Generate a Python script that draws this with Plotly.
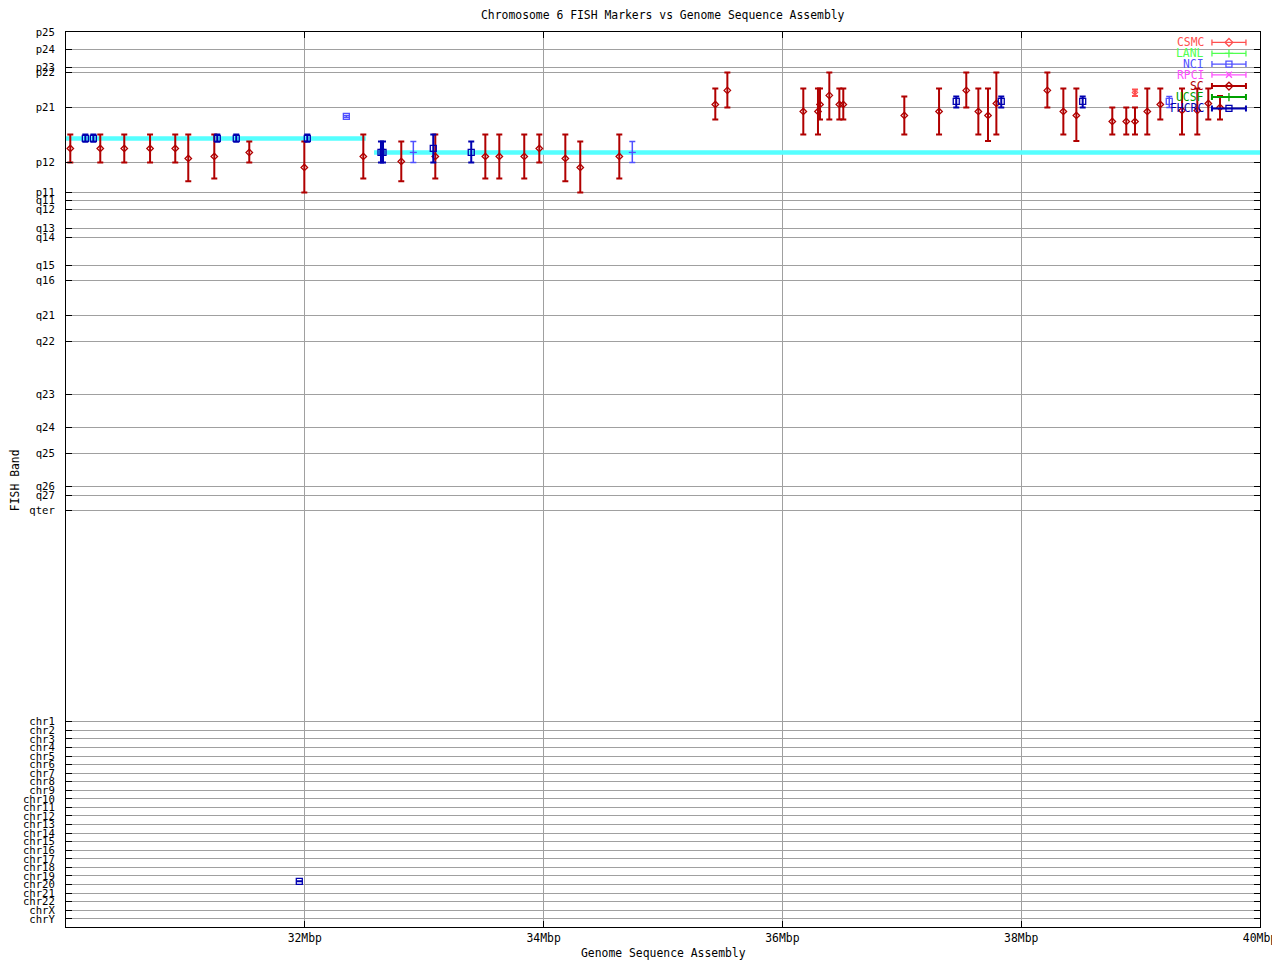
import plotly.graph_objects as go

# ---------------- DATA ----------------
# FISH band axis (arbitrary band units, increasing downward)
band_labels = ["p25", "p24", "p23", "p22", "p21", "p12", "p11", "q11", "q12", "q13", "q14",
               "q15", "q16", "q21", "q22", "q23", "q24", "q25", "q26", "q27", "qter"]
band_pos = [32.0, 49.3, 66.9, 72.3, 107.3, 162.3, 192.3, 200.5, 209.5, 228.5, 237.0,
            265.0, 280.0, 315.0, 341.5, 394.5, 427.5, 453.3, 486.5, 495.0, 510.0]
chr_labels = ["chr%d" % i for i in range(1, 23)] + ["chrX", "chrY"]
chr_pos = [721.5, 730.1, 738.6, 747.2, 755.8, 764.3, 772.9, 781.5, 790.0, 798.6, 807.2, 815.7,
           824.3, 832.9, 841.4, 850.0, 858.6, 867.1, 875.7, 884.3, 892.8, 901.4, 910.0, 918.5]

x_tickvals = [32, 34, 36, 38, 40]
x_ticktext = ["32Mbp", "34Mbp", "36Mbp", "38Mbp", "40Mbp"]

# Sequence assembly band segments (cyan)
seg_x0 = [30.0, 32.58]
seg_x1 = [32.51, 40.0]
seg_y = [138.3, 152.3]

# SC
sc_x = [30.036, 30.287, 30.488, 30.704, 30.915, 31.024, 31.242, 31.535, 31.996, 32.490,
        32.808, 33.093, 33.512, 33.629, 33.838, 33.964, 34.182, 34.307, 34.634,
        35.438, 35.539, 36.175, 36.298, 36.315, 36.393, 36.477, 36.510, 37.021, 37.312,
        37.540, 37.641, 37.722, 37.792, 38.219, 38.353, 38.462, 38.763, 38.880, 38.953,
        39.056, 39.165, 39.347, 39.475, 39.567, 39.665]
sc_y = [148.3, 148.3, 148.3, 148.3, 148.3, 158.3, 156.3, 152.3, 167.3, 156.3,
        161.3, 156.3, 156.3, 156.3, 156.3, 148.3, 158.3, 167.3, 156.3,
        104.3, 90.3, 111.3, 111.3, 104.3, 95.3, 104.3, 104.3, 115.3, 111.3,
        90.3, 111.3, 115.3, 103.3, 90.3, 111.3, 115.3, 121.3, 121.3, 121.3,
        111.3, 104.3, 110.3, 110.3, 103.3, 107.3]
sc_top = [134.3, 134.3, 134.3, 134.3, 134.3, 134.3, 134.3, 141.3, 141.3, 134.3,
          141.3, 134.3, 134.3, 134.3, 134.3, 134.3, 134.3, 141.3, 134.3,
          88.3, 72.3, 88.3, 88.3, 88.3, 72.3, 88.3, 88.3, 96.3, 88.3,
          72.3, 88.3, 88.3, 72.3, 72.3, 88.3, 88.3, 107.3, 107.3, 107.3,
          88.3, 88.3, 88.3, 88.3, 88.3, 96.0]
sc_bot = [162.3, 162.3, 162.3, 162.3, 162.3, 181.0, 178.3, 162.3, 192.3, 178.3,
          181.0, 178.3, 178.3, 178.3, 178.3, 162.3, 181.0, 192.3, 178.3,
          119.3, 107.3, 134.3, 134.3, 119.3, 119.3, 119.3, 119.3, 134.3, 134.3,
          107.3, 134.3, 141.0, 134.3, 107.3, 134.3, 141.0, 134.3, 134.3, 134.3,
          134.3, 119.3, 134.3, 134.3, 119.3, 119.3]

# FHCRC
fh_x = [30.162, 30.229, 31.267, 31.426, 32.021, 32.638, 32.655, 33.076, 33.394,
        37.456, 37.833, 38.515, 31.954]
fh_y = [138.3, 138.3, 138.3, 138.3, 138.3, 152.3, 152.3, 148.3, 152.3,
        101.3, 101.3, 101.3, 881.0]
fh_top = [134.3, 134.3, 134.3, 134.3, 134.3, 141.3, 141.3, 134.3, 141.3,
          96.3, 96.3, 96.3, 881.0]
fh_bot = [141.7, 141.7, 141.7, 141.7, 141.7, 162.3, 162.3, 162.3, 162.3,
          107.3, 107.3, 107.3, 881.0]

# NCI (square markers) and NCI (bar only)
nci_x = [32.348, 39.240]
nci_y = [116.3, 101.3]
nci_top = [115.3, 96.3]
nci_bot = [117.3, 107.3]
nci2_x = [32.909, 34.743]
nci2_y = [152.3, 152.3]
nci2_top = [141.3, 141.3]
nci2_bot = [162.3, 162.3]

# CSMC
csmc_x = [38.953]
csmc_y = [92.3]
csmc_top = [89.3]
csmc_bot = [96.0]

# legend entries
legend_names = ["CSMC", "LANL", "NCI", "RPCI", "SC", "UCSF", "FHCRC"]

# ---------------- STYLE ----------------
FONT = "DejaVu Sans Mono"
FS = 11.4
FS_Y = 10.6
colors = {"CSMC": "#ff5050", "LANL": "#50ff50", "NCI": "#5050ff", "RPCI": "#ff50ff",
          "SC": "#b00000", "UCSF": "#00a000", "FHCRC": "#0000b0"}
symbols = {"CSMC": "diamond-open", "LANL": "cross-thin-open", "NCI": "square-open",
           "RPCI": "x-thin-open", "SC": "diamond-open", "UCSF": "cross-thin-open",
           "FHCRC": "square-open"}

fig = go.Figure()

# cyan assembly segments
for a, b, y in zip(seg_x0, seg_x1, seg_y):
    fig.add_trace(go.Scatter(x=[a, b], y=[y, y], mode="lines",
                             line=dict(color="#55ffff", width=4.5),
                             hoverinfo="skip", showlegend=False))


def err_trace(xs, ys, tops, bots, color, symbol, msize, thick, cap, mline=1.3):
    plus = [b - y for y, b in zip(ys, bots)]
    minus = [y - t for y, t in zip(ys, tops)]
    return go.Scatter(
        x=xs, y=ys, mode="markers",
        marker=dict(symbol=symbol, size=msize, color=color, line=dict(color=color, width=mline)),
        error_y=dict(type="data", symmetric=False, array=plus, arrayminus=minus,
                     color=color, thickness=thick, width=cap),
        showlegend=False)


fig.add_trace(err_trace(sc_x, sc_y, sc_top, sc_bot, colors["SC"], "diamond-open", 5, 2, 3))
fig.add_trace(err_trace(csmc_x, csmc_y, csmc_top, csmc_bot, colors["CSMC"], "diamond-open", 4, 2, 3))
fig.add_trace(err_trace(nci2_x, nci2_y, nci2_top, nci2_bot, colors["NCI"], "line-ew-open", 5, 1.5, 3))
fig.add_trace(err_trace(nci_x, nci_y, nci_top, nci_bot, colors["NCI"], "square-open", 6, 1.5, 3))
fig.add_trace(err_trace(fh_x, fh_y, fh_top, fh_bot, colors["FHCRC"], "square-open", 6, 2, 3))

# ---------------- legend (gnuplot-style key) ----------------
LEG_X = 39.740       # sample center (Mbp)
LEG_HALF = 0.1424    # half sample length (Mbp)
LEG_TEXT_X = 39.545
LEG_ROWS = [42.3, 53.3, 64.0, 74.7, 86.0, 97.0, 108.3]
for name, ry in zip(legend_names, LEG_ROWS):
    c = colors[name]
    thick = 2 if name in ("SC", "UCSF", "FHCRC") else 1.3
    fig.add_trace(go.Scatter(
        x=[LEG_X], y=[ry], mode="markers",
        marker=dict(symbol=symbols[name], size=6, color=c, line=dict(color=c, width=1.3)),
        error_x=dict(type="constant", value=LEG_HALF, color=c, thickness=thick, width=3),
        showlegend=False, hoverinfo="skip"))
    fig.add_annotation(x=LEG_TEXT_X, y=ry, xref="x", yref="y", text=name, showarrow=False,
                       xanchor="right", yanchor="middle",
                       font=dict(family=FONT, size=FS, color=c))

# page offset of the figure inside the html body (default 8px body margin)
PAGE_OFF = 8
TOP = 32
BOTTOM = 926.7
LEFT = 66
RIGHT = 1260
H = BOTTOM - TOP
W = RIGHT - LEFT

fig.add_annotation(x=0.5, y=1 + (TOP - 15) / H, xref="paper", yref="paper",
                   text="Chromosome 6 FISH Markers vs Genome Sequence Assembly",
                   showarrow=False, xanchor="center", yanchor="middle",
                   font=dict(family=FONT, size=FS, color="black"))
fig.add_annotation(x=0.5, y=1 - (953 - TOP) / H, xref="paper", yref="paper",
                   text="Genome Sequence Assembly", showarrow=False,
                   xanchor="center", yanchor="middle",
                   font=dict(family=FONT, size=FS, color="black"))
fig.add_annotation(x=(15 - LEFT) / W, y=1 - (480 - TOP) / H, xref="paper", yref="paper",
                   text="FISH Band", showarrow=False, textangle=-90,
                   xanchor="center", yanchor="middle",
                   font=dict(family=FONT, size=FS, color="black"))

fig.update_layout(
    width=1280, height=960, autosize=False,
    margin=dict(l=LEFT - PAGE_OFF, r=1280 + PAGE_OFF - RIGHT, t=TOP - PAGE_OFF,
                b=960 + PAGE_OFF - BOTTOM, pad=0, autoexpand=False),
    paper_bgcolor="white", plot_bgcolor="white",
    font=dict(family=FONT, size=FS, color="black"),
    showlegend=False,
    xaxis=dict(range=[30, 40], tickvals=x_tickvals, ticktext=x_ticktext, automargin=False,
               showgrid=True, gridcolor="#a0a0a0", gridwidth=1, zeroline=False,
               showline=True, linecolor="black", linewidth=1, mirror="ticks",
               ticks="inside", ticklen=6, tickcolor="black", ticklabelstandoff=0,
               tickfont=dict(family=FONT, size=FS, color="black")),
    yaxis=dict(range=[BOTTOM, TOP - 0.1], tickvals=band_pos + chr_pos, automargin=False,
               ticktext=band_labels + chr_labels,
               showgrid=True, gridcolor="#a0a0a0", gridwidth=1, zeroline=False,
               showline=True, linecolor="black", linewidth=1, mirror="ticks",
               ticks="inside", ticklen=6, tickcolor="black", ticklabelstandoff=8,
               tickfont=dict(family=FONT, size=FS_Y, color="black")),
)

fig.write_html("out.html")
